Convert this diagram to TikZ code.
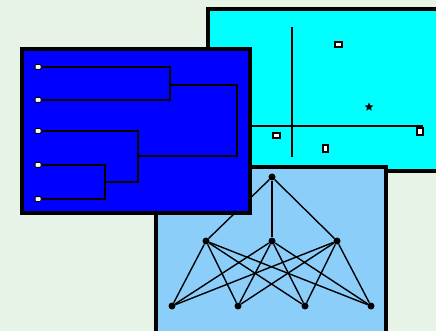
\documentclass[tikz,border=0pt]{standalone}
\usetikzlibrary{shapes.geometric}
\begin{document}
\begin{tikzpicture}[x=1pt,y=-1pt,
  panel/.style={draw=black,line width=3.5pt},
  tree/.style={draw=black,line width=2.3pt},
  leaf/.style={draw=black,fill=white,rounded corners=1pt,minimum width=6pt,minimum height=5pt,inner sep=0pt,line width=1pt},
  pt/.style={draw=black,fill=white,minimum width=7pt,minimum height=5pt,inner sep=0pt,line width=2pt},
  dot/.style={circle,fill=black,minimum size=7pt,inner sep=0pt},
  edge/.style={draw=black,line width=1.4pt}]
\useasboundingbox (0,0) rectangle (436,331);
\fill[fill={rgb,255:red,230;green,243;blue,230}] (0,0) rectangle (436,331);
\begin{scope}
\clip (0,0) rectangle (436,331);
% cyan panel
\filldraw[panel,fill={rgb,255:red,0;green,255;blue,255}] (208,9) rectangle (445,171);
\draw[line width=2.2pt] (292,27) -- (292,157);
\draw[line width=2.2pt] (252,126) -- (423,126);
\node[pt] (s1) at (338,45) {};
\node[star,star points=5,star point ratio=2.2,fill=black,minimum size=9pt,inner sep=0pt] (s2) at (369,107) {};
\node[pt] (s3) at (276,136) {};
\node[pt,minimum width=5pt,minimum height=7pt] (s4) at (325,149) {};
\node[pt,minimum width=6pt,minimum height=7pt] (s5) at (420,132) {};
% light blue panel
\filldraw[panel,fill={rgb,255:red,140;green,206;blue,250}] (156,167) rectangle (386,340);
\node[dot] (t) at (272,177) {};
\node[dot] (m1) at (206,241) {};
\node[dot] (m2) at (272,241) {};
\node[dot] (m3) at (337,241) {};
\node[dot] (b1) at (172,306) {};
\node[dot] (b2) at (238,306) {};
\node[dot] (b3) at (305,306) {};
\node[dot] (b4) at (371,306) {};
\foreach \m in {m1,m2,m3}{
  \draw[edge] (t) -- (\m);
  \foreach \b in {b1,b2,b3,b4}{\draw[edge] (\m) -- (\b);}
}
% blue panel
\filldraw[panel,line width=4.5pt,fill={rgb,255:red,0;green,0;blue,255}] (22,49) rectangle (250,213);
\node[leaf] (l1) at (38,67) {};
\node[leaf] (l2) at (38,100) {};
\node[leaf] (l3) at (38,131) {};
\node[leaf] (l4) at (38,165) {};
\node[leaf] (l5) at (38,199) {};
\coordinate (j12) at (170,85);
\coordinate (j45) at (105,182);
\coordinate (j345) at (138,156);
\draw[tree] (l1.east) -| (j12) |- (l2.east);
\draw[tree] (l4.east) -| (j45) |- (l5.east);
\draw[tree] (l3.east) -| (j345) |- (j45);
\draw[tree] (j12) -- (237,85) |- (j345);
\end{scope}
\end{tikzpicture}
\end{document}
